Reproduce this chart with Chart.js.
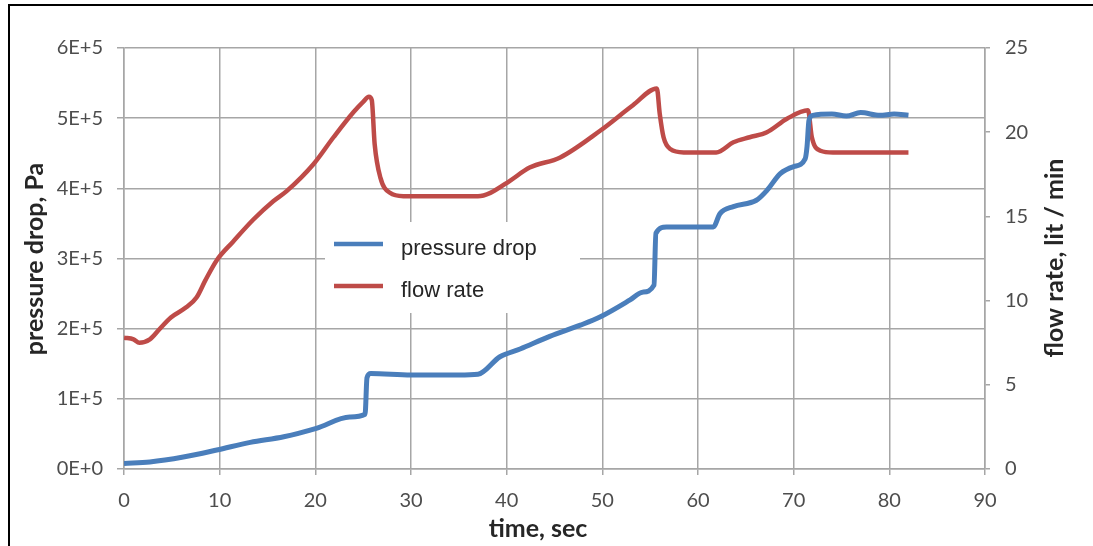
<!DOCTYPE html>
<html>
<head>
<meta charset="utf-8">
<title>pressure drop / flow rate</title>
<script src="https://cdn.jsdelivr.net/npm/chart.js@4/dist/chart.umd.min.js"></script>
<style>
  html, body { margin: 0; padding: 0; background: #fff; overflow: hidden; }
  #wrap { position: relative; width: 1093px; height: 546px; }
  #wrap canvas { position: absolute; left: 0; top: 0; }
  /* frame round the figure (open at right and bottom) */
  #frame { position: absolute; left: 8px; top: 4px; right: -10px; bottom: -10px;
           border-top: 2px solid #000; border-left: 2px solid #000; pointer-events: none; }
</style>
</head>
<body>
<div id="wrap">
  <canvas id="grafikk" width="1093" height="546"></canvas>
  <div id="frame"></div>
</div>
<script>
// pressure drop, Pa
let pdTime   = [0, 2.7, 6.2, 9.7, 13.2, 16.7, 20.1, 23.6, 25.2, 25.4, 25.8, 30, 35, 37,
                39.3, 41.4, 44.5, 47.7, 49.8, 52.9, 54.2, 55.4, 55.6, 56.7, 61.6, 62.3, 63.7,
                66.1, 67.2, 68.6, 70.0, 71.2, 71.4, 71.6, 72.0, 74, 75.5, 77, 79, 80.5, 82];
let pdValues = [8000, 10000, 17000, 27000, 38000, 46000, 58000, 74000, 78000, 130000, 136000, 134000, 134000, 135000,
                160000, 171000, 189000, 205000, 217000, 241000, 252000, 262000, 336000, 345000, 345000, 364000, 374000,
                383000, 397000, 421000, 431000, 442000, 460000, 497000, 504000, 506000, 503000, 508000, 504000, 506000, 504000];

// flow rate, lit / min
let frTime   = [0, 1.0, 1.6, 2.7, 3.7, 4.9, 6.5, 7.6, 8.5, 9.7, 11.4, 13.5, 15.6, 17.0, 19.8,
                21.9, 24.0, 25.0, 25.6, 25.9, 26.2, 26.8, 27.8, 29.2, 33, 37, 38.3, 40.3, 42.4,
                45.6, 49.8, 53.2, 55.7, 56.0, 56.4, 57.1, 58.5, 61.9, 63.7, 65.4, 67.2, 69.3,
                71.5, 71.9, 72.8, 74.1, 78, 82];
let frValues = [7.8, 7.7, 7.5, 7.7, 8.3, 9.0, 9.6, 10.2, 11.2, 12.4, 13.5, 14.8, 15.9, 16.5, 18.1,
                19.7, 21.2, 21.8, 22.1, 21.9, 19.3, 17.3, 16.4, 16.2, 16.2, 16.2, 16.4, 17.1, 17.9,
                18.5, 20.1, 21.6, 22.6, 21.1, 19.7, 19.0, 18.8, 18.8, 19.4, 19.7, 20.0, 20.8,
                21.3, 19.7, 18.9, 18.8, 18.8, 18.8];

let xTicks = [0, 10, 20, 30, 40, 50, 60, 70, 80, 90];

let blaa = "#4a7ebb";
let rod  = "#be4b48";
let grid = "#a6a6a6";
let tickFont = { family: "Lato", size: 20 };
let tittelFont = "bold 25px Lato";

function punkter(tider, verdier) {
  return tider.map((t, i) => ({ x: t, y: verdier[i] }));
}

// legend box inside the plot
const legendeBoks = {
  id: "legendeBoks",
  beforeDatasetsDraw(chart) {
    const c = chart.ctx;
    c.save();
    c.fillStyle = "#fff";
    c.fillRect(325, 222, 255, 91);
    c.lineWidth = 4.5;
    c.lineCap = "butt";
    c.strokeStyle = blaa;
    c.beginPath(); c.moveTo(334, 244); c.lineTo(383, 244); c.stroke();
    c.strokeStyle = rod;
    c.beginPath(); c.moveTo(334, 286); c.lineTo(383, 286); c.stroke();
    c.fillStyle = "#262626";
    c.font = "22px 'Liberation Sans'";
    c.textAlign = "left";
    c.textBaseline = "alphabetic";
    c.fillText("pressure drop", 401, 255);
    c.fillText("flow rate", 401, 297);
    c.restore();
  }
};

// axis titles
function tittel(c, tekst, x, y, vinkel) {
  c.save();
  c.fillStyle = "#262626";
  c.font = tittelFont;
  c.textAlign = "center";
  c.textBaseline = "middle";
  c.translate(x, y);
  c.rotate(vinkel);
  c.fillText(tekst, 0, 0);
  c.restore();
}

const akseTitler = {
  id: "akseTitler",
  afterDraw(chart) {
    const c = chart.ctx;
    tittel(c, "time, sec", 538, 529, 0);
    tittel(c, "pressure drop, Pa", 35, 259, -Math.PI / 2);
    tittel(c, "flow rate, lit / min", 1055, 258, -Math.PI / 2);
  }
};

new Chart("grafikk", {
  type: "line",
  data: {
    datasets: [{
      label: "pressure drop",
      data: punkter(pdTime, pdValues),
      yAxisID: "y",
      borderColor: blaa,
      borderWidth: 5,
      pointRadius: 0,
      cubicInterpolationMode: "monotone"
    }, {
      label: "flow rate",
      data: punkter(frTime, frValues),
      yAxisID: "y1",
      borderColor: rod,
      borderWidth: 4.5,
      pointRadius: 0,
      cubicInterpolationMode: "monotone"
    }]
  },
  options: {
    responsive: false,
    animation: false,
    devicePixelRatio: 1,
    layout: { padding: { top: 48, left: 0, right: 0, bottom: 0 } },
    plugins: { legend: { display: false }, tooltip: { enabled: false } },
    scales: {
      x: {
        type: "linear",
        min: 0, max: 90,
        afterBuildTicks: s => { s.ticks = xTicks.map(v => ({ value: v })); },
        afterFit: s => { s.height = 77; },
        ticks: { font: tickFont, color: "#4d4d4d", padding: 14, maxRotation: 0 },
        grid: { color: grid, lineWidth: 1.5, tickLength: 6 },
        border: { color: grid, width: 1.5 }
      },
      y: {
        position: "left",
        min: 0, max: 600000,
        afterFit: s => { s.width = 124; },
        ticks: {
          stepSize: 100000, font: tickFont, color: "#4d4d4d", padding: 14,
          callback: v => v === 0 ? "0E+0" : (v / 100000) + "E+5"
        },
        grid: { color: grid, lineWidth: 1.5, tickLength: 7 },
        border: { color: grid, width: 1.5 }
      },
      y1: {
        position: "right",
        min: 0, max: 25,
        afterFit: s => { s.width = 108; },
        ticks: { stepSize: 5, font: tickFont, color: "#4d4d4d", padding: 15 },
        grid: { drawOnChartArea: false, color: grid, lineWidth: 1.5, tickLength: 5 },
        border: { color: grid, width: 1.5 }
      }
    }
  },
  plugins: [legendeBoks, akseTitler]
});
</script>
</body>
</html>
